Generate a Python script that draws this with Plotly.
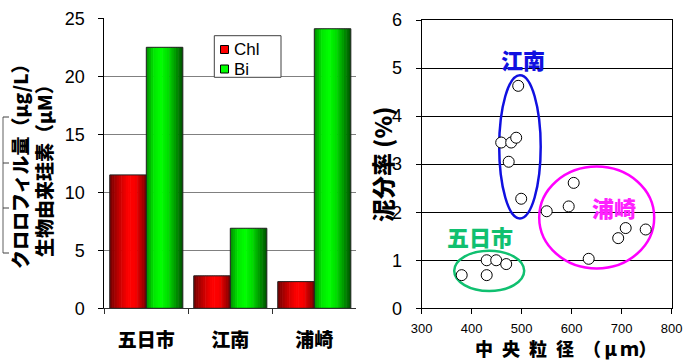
import plotly.graph_objects as go

# ---------------- data ----------------
categories = ['五日市', '江南', '浦崎']
chl = [11.5, 2.8, 2.3]
bi = [22.5, 6.9, 24.1]

itsukaichi_x = [380, 430, 449, 469, 430]
itsukaichi_y = [0.69, 1.0, 1.0, 0.92, 0.69]
konan_x = [459, 479, 489, 474, 493, 499]
konan_y = [3.45, 3.45, 3.55, 3.05, 4.63, 2.28]
urasaki_x = [550, 594, 604, 634, 693, 708, 748]
urasaki_y = [2.02, 2.12, 2.61, 1.03, 1.46, 1.67, 1.64]

W, H = 685, 362
def px(x):
    return x / W
def py(y):
    return 1 - y / H

CJK = 'Noto Sans CJK JP'
LAT = 'Liberation Sans'

fig = go.Figure()

# ---------------- gradient bars ----------------
def lerp(a, b, t):
    return tuple(int(round(a[i] + (b[i] - a[i]) * t)) for i in range(3))

def grad(stops, t):
    for i in range(len(stops) - 1):
        t0, c0 = stops[i]
        t1, c1 = stops[i + 1]
        if t0 <= t <= t1:
            return lerp(c0, c1, (t - t0) / (t1 - t0))
    return stops[-1][1]

red_stops = [(0.0, (115, 0, 0)), (0.25, (195, 0, 0)), (0.5, (255, 0, 0)), (0.7, (250, 0, 0)), (1.0, (120, 0, 0))]
green_stops = [(0.0, (0, 140, 0)), (0.2, (0, 230, 0)), (0.4, (0, 255, 0)), (0.6, (0, 220, 0)), (1.0, (0, 80, 0))]

bw = 0.435
N = 16
series = [(chl, -bw, red_stops), (bi, 0.0, green_stops)]
for vals, off, stops in series:
    for k in range(N):
        t = (k + 0.5) / N
        c = grad(stops, t)
        sw = bw / N
        fig.add_trace(go.Bar(
            x=categories, y=vals,
            width=[sw * (1.25 if k < N - 1 else 1.0)] * 3,
            offset=[off + k * sw] * 3,
            marker=dict(color='rgb(%d,%d,%d)' % c, line=dict(width=0)),
            showlegend=False, hoverinfo='skip', xaxis='x', yaxis='y'))
    fig.add_trace(go.Bar(
        x=categories, y=vals, width=[bw] * 3, offset=[off] * 3,
        marker=dict(color='rgba(0,0,0,0)', line=dict(color='#202020', width=1)),
        showlegend=False, xaxis='x', yaxis='y'))

# ---------------- scatter ----------------
for xs, ys in [(itsukaichi_x, itsukaichi_y), (konan_x, konan_y), (urasaki_x, urasaki_y)]:
    fig.add_trace(go.Scatter(
        x=xs, y=ys, mode='markers', xaxis='x2', yaxis='y2',
        marker=dict(symbol='circle', size=11, color='white',
                    line=dict(color='black', width=1)),
        showlegend=False))

# ---------------- layout ----------------
fig.update_layout(
    width=W, height=H, margin=dict(l=0, r=0, t=0, b=0, pad=0, autoexpand=False),
    paper_bgcolor='white', plot_bgcolor='white',
    barmode='overlay', showlegend=False,
    xaxis=dict(domain=[px(104.3), px(356.3)], type='category', range=[-0.5, 2.5],
               automargin=False,
               tickson='boundaries', ticks='outside', ticklen=5, tickcolor='#303030',
               showline=True, linecolor='#303030', linewidth=1,
               tickfont=dict(family=CJK, size=19, color='black', weight=900),
               ticklabelstandoff=15, showgrid=False, fixedrange=True),
    yaxis=dict(domain=[py(308.3), py(18.3)], range=[0, 25], dtick=5,
               automargin=False,
               ticks='outside', ticklen=5, tickcolor='black',
               showline=True, linecolor='black', linewidth=1,
               showgrid=True, gridcolor='#808080', gridwidth=1,
               tickfont=dict(family=LAT, size=18, color='black'),
               ticklabelstandoff=10, zeroline=False),
    xaxis2=dict(domain=[px(421.7), px(671.7)], range=[300, 800], dtick=100,
                automargin=False,
                anchor='y2', ticks='outside', ticklen=5, tickcolor='black',
                showline=True, mirror=True, linecolor='black', linewidth=1,
                showgrid=False, zeroline=False,
                tickfont=dict(family=LAT, size=13, color='black'),
                ticklabelstandoff=3),
    yaxis2=dict(domain=[py(308.3), py(20)], range=[0, 6], dtick=1,
                automargin=False,
                anchor='x2', ticks='outside', ticklen=5, tickcolor='black',
                showline=True, mirror=True, linecolor='black', linewidth=1,
                showgrid=True, gridcolor='black', gridwidth=1, zeroline=False,
                tickfont=dict(family=LAT, size=18, color='black'),
                ticklabelstandoff=10),
)

shapes = []
# ellipses
for x0, x1, y0, y1, col in [(455, 538, 1.87, 4.85, '#1010e0'),
                            (365, 505, 0.36, 1.2, '#10c070'),
                            (535, 765, 0.83, 2.95, '#ff00ff')]:
    shapes.append(dict(type='circle', xref='x2', yref='y2', x0=x0, x1=x1, y0=y0, y1=y1,
                       line=dict(color=col, width=2.5), layer='between'))

# manual legend
shapes.append(dict(type='rect', xref='paper', yref='paper', x0=px(214.3), x1=px(281),
                   y0=py(77.3), y1=py(35.7), line=dict(color='#404040', width=1),
                   fillcolor='white', layer='above'))
shapes.append(dict(type='rect', xref='paper', yref='paper', x0=px(220.5), x1=px(228.5),
                   y0=py(53.5), y1=py(45.5), line=dict(color='black', width=1),
                   fillcolor='#ff0000', layer='above'))
shapes.append(dict(type='rect', xref='paper', yref='paper', x0=px(220.5), x1=px(228.5),
                   y0=py(73), y1=py(65), line=dict(color='black', width=1),
                   fillcolor='#00ff00', layer='above'))

# stray bracket at far left
shapes.append(dict(type='line', xref='paper', yref='paper', x0=px(3), x1=px(3),
                   y0=py(117), y1=py(253), line=dict(color='#606060', width=1)))
for yy in [117, 163, 208, 253]:
    shapes.append(dict(type='line', xref='paper', yref='paper', x0=px(3), x1=px(9),
                       y0=py(yy), y1=py(yy), line=dict(color='#404040', width=1)))
fig.update_layout(shapes=shapes)

ann = []
ann.append(dict(text='Chl', xref='paper', yref='paper', x=px(232), y=py(50),
                xanchor='left', yanchor='middle', showarrow=False,
                font=dict(family=LAT, size=17, color='black')))
ann.append(dict(text='Bi', xref='paper', yref='paper', x=px(232), y=py(69.5),
                xanchor='left', yanchor='middle', showarrow=False,
                font=dict(family=LAT, size=17, color='black')))
# left y title (two lines)
ann.append(dict(text='クロロフィル量（μg/L）', xref='paper', yref='paper', x=px(19), y=py(162),
                textangle=-90, showarrow=False, xanchor='center', yanchor='middle',
                font=dict(family=CJK, size=19, color='black', weight=900)))
ann.append(dict(text='生物由来珪素（μM）', xref='paper', yref='paper', x=px(43), y=py(166),
                textangle=-90, showarrow=False, xanchor='center', yanchor='middle',
                font=dict(family=CJK, size=19, color='black', weight=900)))
# right titles
ann.append(dict(text='泥分率 (%)', xref='paper', yref='paper', x=px(382), y=py(165),
                textangle=-90, showarrow=False, xanchor='center', yanchor='middle',
                font=dict(family=CJK, size=23, color='black', weight=900)))
ann.append(dict(text='中\u2002央\u2002粒\u2002径\u2002（\u2009μ\u2009ｍ）', xref='paper', yref='paper',
                x=px(566), y=0, showarrow=False, xanchor='center', yanchor='bottom',
                borderpad=0,
                font=dict(family=CJK, size=18, color='black', weight=900)))
# cluster labels
ann.append(dict(text='江南', xref='x2', yref='y2', x=503, y=5.19, showarrow=False,
                font=dict(family=CJK, size=22, color='#1010e0', weight=900)))
ann.append(dict(text='五日市', xref='x2', yref='y2', x=417, y=1.5, showarrow=False,
                font=dict(family=CJK, size=22, color='#10c070', weight=900)))
ann.append(dict(text='浦崎', xref='x2', yref='y2', x=685, y=2.1, showarrow=False,
                font=dict(family=CJK, size=22, color='#ff22ff', weight=900)))
fig.update_layout(annotations=ann)

fig.write_html('out.html')
